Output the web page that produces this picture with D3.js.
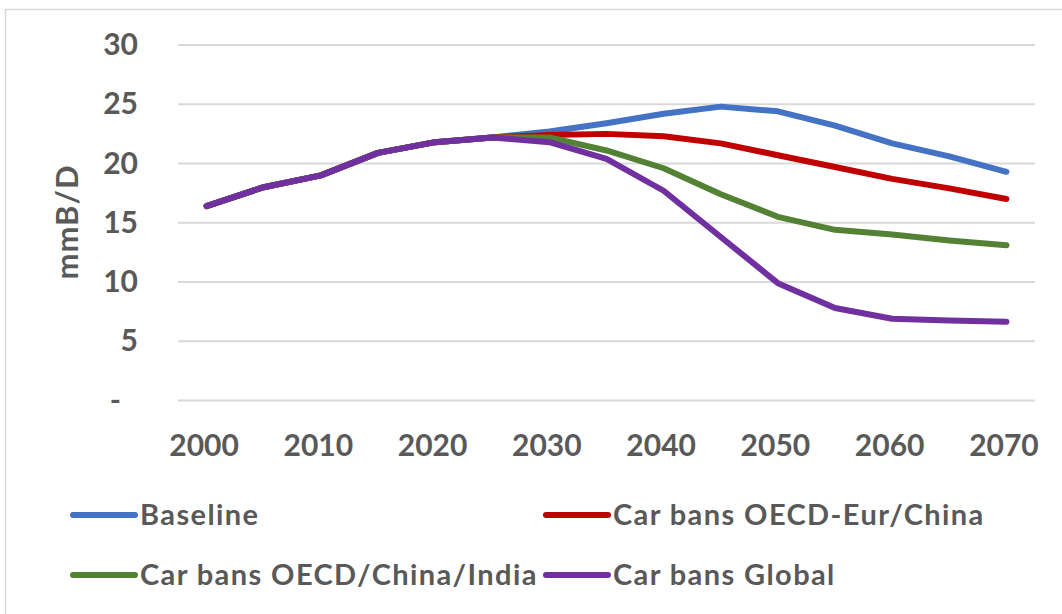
<!DOCTYPE html>
<html>
<head>
<meta charset="utf-8">
<script src="https://cdn.jsdelivr.net/npm/d3@7/dist/d3.min.js"></script>
<style>
  html, body { margin: 0; padding: 0; background: #ffffff; }
  svg { display: block; }
  text { font-family: Lato, "Open Sans", sans-serif; font-weight: bold; fill: #595959; }
</style>
</head>
<body>
<svg id="chart" width="1062" height="614"></svg>
<script>
// ---- data ----
const years = [2000, 2005, 2010, 2015, 2020, 2025, 2030, 2035, 2040, 2045, 2050, 2055, 2060, 2065, 2070];
const xTickLabels = [2000, 2010, 2020, 2030, 2040, 2050, 2060, 2070];
const yTicks = [0, 5, 10, 15, 20, 25, 30];
const seriesNames = ["Baseline", "Car bans OECD-Eur/China", "Car bans OECD/China/India", "Car bans Global"];
const baseline   = [16.4, 18.0, 19.0, 20.9, 21.8, 22.2, 22.7, 23.4, 24.2, 24.8, 24.4, 23.2, 21.7, 20.6, 19.3];
const oecdEurCn  = [16.4, 18.0, 19.0, 20.9, 21.8, 22.2, 22.4, 22.5, 22.3, 21.7, 20.7, 19.7, 18.7, 17.9, 17.0];
const oecdCnIn   = [16.4, 18.0, 19.0, 20.9, 21.8, 22.2, 22.2, 21.1, 19.6, 17.4, 15.5, 14.4, 14.0, 13.5, 13.1];
const global     = [16.4, 18.0, 19.0, 20.9, 21.8, 22.2, 21.8, 20.4, 17.7, 13.8, 9.9, 7.8, 6.9, 6.75, 6.65];
const colors = ["#4472C4", "#C00000", "#548235", "#7030A0"];
const yLabel = "mmB/D";

const seriesValues = [baseline, oecdEurCn, oecdCnIn, global];

// ---- layout ----
const svg = d3.select("#chart");
const plot = { left: 178, right: 1035, top: 45, bottom: 400.5 };

// chart area border
svg.append("rect")
  .attr("x", 5.5).attr("y", 9.5)
  .attr("width", 1100).attr("height", 700)
  .attr("fill", "none").attr("stroke", "#D9D9D9").attr("stroke-width", 1.5);

const x = d3.scalePoint().domain(years).range([plot.left, plot.right]).padding(0.5);
const y = d3.scaleLinear().domain([0, 30]).range([plot.bottom, plot.top]);

// gridlines
svg.append("g").selectAll("line").data(yTicks).join("line")
  .attr("x1", plot.left).attr("x2", plot.right)
  .attr("y1", d => y(d)).attr("y2", d => y(d))
  .attr("stroke", "#D9D9D9").attr("stroke-width", 2);

// y axis
const yAxis = svg.append("g")
  .attr("transform", `translate(${plot.left},0)`)
  .call(d3.axisLeft(y).tickValues(yTicks).tickSize(0).tickPadding(40)
    .tickFormat(d => d === 0 ? "-" : d));
yAxis.select(".domain").remove();
yAxis.selectAll("text").style("font-size", "30px").style("font-family", "Lato, sans-serif")
  .attr("fill", "#595959");
yAxis.selectAll("text").filter(d => d === 0).attr("dx", -17);

// x axis
const xAxis = svg.append("g")
  .attr("transform", `translate(0,${plot.bottom})`)
  .call(d3.axisBottom(x).tickValues(xTickLabels).tickSize(0).tickPadding(34));
xAxis.select(".domain").remove();
xAxis.selectAll("text").style("font-size", "30px").style("font-family", "Lato, sans-serif")
  .attr("fill", "#595959").attr("dx", -3);

// y title
svg.append("text")
  .attr("transform", "translate(78,222) rotate(-90)")
  .attr("text-anchor", "middle")
  .style("font-size", "31px")
  .style("letter-spacing", "1px")
  .text(yLabel);

// lines
const line = d3.line().x((d, i) => x(years[i])).y(d => y(d));
svg.append("g").selectAll("path").data(seriesValues).join("path")
  .attr("d", d => line(d))
  .attr("fill", "none")
  .attr("stroke", (d, i) => colors[i])
  .attr("stroke-width", 6)
  .attr("stroke-linejoin", "round")
  .attr("stroke-linecap", "round");

// legend
const legendPos = [
  { lx: 73, ty: 515 },
  { lx: 546, ty: 515 },
  { lx: 73, ty: 575 },
  { lx: 546, ty: 575 }
];
const lg = svg.append("g").selectAll("g").data(seriesNames).join("g")
  .attr("transform", (d, i) => `translate(${legendPos[i].lx},${legendPos[i].ty})`);
lg.append("line")
  .attr("x1", 0).attr("x2", 62).attr("y1", 0).attr("y2", 0)
  .attr("stroke", (d, i) => colors[i]).attr("stroke-width", 6).attr("stroke-linecap", "round");
lg.append("text")
  .attr("x", 67).attr("dy", "0.36em")
  .style("font-size", "29px")
  .style("letter-spacing", "1.4px")
  .text(d => d);
</script>
</body>
</html>
